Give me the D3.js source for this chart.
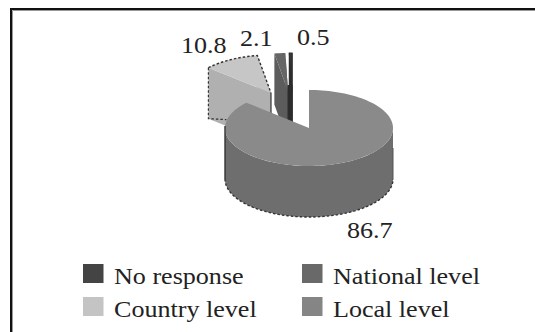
<!DOCTYPE html>
<html>
<head>
<meta charset="utf-8">
<script src="https://cdn.jsdelivr.net/npm/d3@7/dist/d3.min.js"></script>
<style>
  html, body { margin: 0; padding: 0; background: #fff; }
  svg { display: block; }
  text { font-family: "Liberation Serif", serif; font-size: 23.5px; fill: #222; }
</style>
</head>
<body>
<svg id="chart" width="535" height="332"></svg>
<script>
// Survey shares, in percent
const categories = ["No response", "National level", "Country level", "Local level"];
const values = [0.5, 2.1, 10.8, 86.7];

const topColors = ["#3e3e3e", "#666666", "#c6c6c6", "#8a8a8a"];
const sideColors = ["#2c2c2c", "#5c5c5c", "#b0b0b0", "#6e6e6e"];
const legendColors = ["#444444", "#696969", "#c4c4c4", "#858585"];

// Projected pie geometry
const cx = 309, cy = 128, rx = 84, ry = 38, depth = 51;
// How far each wedge is pulled away from the pie centre
const pull = [[-17, -37], [-21, -37], [-38, -35], [0, 0]];
// Label anchor (left, baseline) per category
const labelPos = [[297, 45], [240, 46], [181, 53], [347, 238]];
const stretch = 1.11;

const svg = d3.select("#chart");

// Frame: only the top and left edges reach into the page
svg.append("path").attr("d", "M11,332V9H535").attr("fill", "none").attr("stroke", "#111").attr("stroke-width", 2);
svg.append("path").attr("d", "M12.5,332V10.5H535").attr("fill", "none").attr("stroke", "#999").attr("stroke-width", 1);

// Clockwise from twelve o'clock, the largest share first
const arcs = d3.pie().sort(null).value(i => values[i])(d3.range(categories.length).reverse());
const byIndex = new Map(arcs.map(a => [a.data, a]));

const point = (a, ox, oy, dz = 0) => [cx + ox + rx * Math.sin(a), cy + oy - ry * Math.cos(a) + dz];
const rim = (a0, a1, ox, oy, dz = 0) => {
  const n = Math.max(2, Math.ceil(Math.abs(a1 - a0) / 0.04));
  return d3.range(n + 1).map(i => point(a0 + (a1 - a0) * i / n, ox, oy, dz));
};
const line = d3.line();
const closed = pts => line(pts) + "Z";

function drawPulled(i) {
  const a = byIndex.get(i);
  const [ox, oy] = pull[i];
  const apex = [cx + ox, cy + oy];
  const g = svg.append("g");
  const p0 = point(a.startAngle, ox, oy), p1 = point(a.endAngle, ox, oy);
  // radial faces
  [p0, p1].forEach(p => {
    g.append("path")
      .attr("d", closed([apex, p, [p[0], p[1] + depth], [apex[0], apex[1] + depth]]))
      .attr("fill", sideColors[i]);
  });
  // top face
  g.append("path")
    .attr("d", closed([apex, ...rim(a.startAngle, a.endAngle, ox, oy)]))
    .attr("fill", topColors[i]);
  return { g, a, ox, oy, apex, p0, p1 };
}

// Back wedges first, the main body over them
const natWedge = drawPulled(1);
const noneWedge = drawPulled(0);
// The thinnest wedge needs a visible width at this size
noneWedge.g.selectAll("path").attr("stroke", sideColors[0]).attr("stroke-width", 1.2);
// Its radial face widens where it passes in front of the national wedge
svg.append("rect")
  .attr("x", noneWedge.apex[0] - 4.5).attr("y", noneWedge.apex[1] - 6)
  .attr("width", 5).attr("height", 40)
  .attr("fill", sideColors[0]);

const c = drawPulled(2);
c.g.append("path")
  .attr("d", line([[c.p0[0], c.p0[1]], [c.p0[0], c.p0[1] + depth], [c.p0[0] + 18, c.p0[1] + depth + 1]]))
  .attr("fill", "none").attr("stroke", "#333").attr("stroke-width", 1.2).attr("stroke-dasharray", "2.5 2");
c.g.append("path")
  .attr("d", line(rim(c.a.startAngle, c.a.endAngle, c.ox, c.oy).concat([c.apex])))
  .attr("fill", "none").attr("stroke", "#333").attr("stroke-width", 1.4).attr("stroke-dasharray", "2.5 2");
c.g.append("path")
  .attr("d", line([c.apex, [c.apex[0], c.apex[1] + 22]]))
  .attr("fill", "none").attr("stroke", "#333").attr("stroke-width", 1.2);
// Keeps a white sliver right of the country wedge's edge
c.g.append("path")
  .attr("d", line([[c.apex[0] + 2, c.apex[1]], [c.apex[0] + 2, c.apex[1] + 26]]))
  .attr("fill", "none").attr("stroke", "#fff").attr("stroke-width", 2);

// Main body: front wall, then the top face
const main = byIndex.get(3);
const wallTop = rim(Math.PI / 2, 3 * Math.PI / 2, 0, 0);
const wallBottom = rim(3 * Math.PI / 2, Math.PI / 2, 0, 0, depth);
svg.append("path").attr("d", closed([...wallTop, ...wallBottom])).attr("fill", sideColors[3]);
svg.append("path")
  .attr("d", closed([[cx, cy], ...rim(main.startAngle, main.endAngle, 0, 0)]))
  .attr("fill", topColors[3]);
svg.append("path")
  .attr("d", line(rim(3 * Math.PI / 2, Math.PI / 2, 0, 0, depth)))
  .attr("fill", "none").attr("stroke", "#333").attr("stroke-width", 1.4).attr("stroke-dasharray", "2.5 2");
svg.append("path")
  .attr("d", line([[cx - rx, cy - 2], [cx - rx, cy + depth]]))
  .attr("fill", "none").attr("stroke", "#333").attr("stroke-width", 1.4);
svg.append("path")
  .attr("d", line([[cx + rx, cy + 20], [cx + rx, cy + depth]]))
  .attr("fill", "none").attr("stroke", "#555").attr("stroke-width", 1);

// Value labels
svg.selectAll("text.value").data(values).join("text")
  .attr("class", "value")
  .attr("transform", (d, i) => `translate(${labelPos[i][0]},${labelPos[i][1]}) scale(${stretch},1)`)
  .text(d => d.toFixed(1));

// Legend: two columns, two rows
const colX = d3.scaleOrdinal().domain([0, 1]).range([83, 302]);
const rowY = d3.scaleOrdinal().domain([0, 1]).range([264, 297]);
const legend = svg.selectAll("g.key").data(categories).join("g")
  .attr("class", "key")
  .attr("transform", (d, i) => `translate(${colX(i === 1 || i === 3 ? 1 : 0)},${rowY(i < 2 ? 0 : 1)})`);
legend.append("rect").attr("width", 20.5).attr("height", 19).attr("fill", (d, i) => legendColors[i]);
legend.append("text")
  .attr("transform", `translate(31,19.5) scale(${stretch},1)`)
  .text(d => d);
</script>
</body>
</html>
